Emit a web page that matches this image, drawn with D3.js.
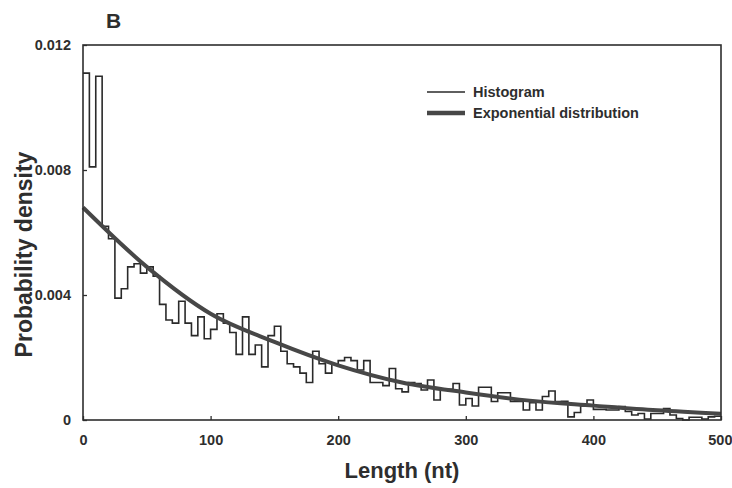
<!DOCTYPE html>
<html>
<head>
<meta charset="utf-8">
<script src="https://cdn.jsdelivr.net/npm/d3@7"></script>
<style>
    html, body { margin: 0; padding: 0; background: #fff; }
    svg text { font-family: "Liberation Sans", Arial, Helvetica, sans-serif; font-weight: bold; fill: #2e2e2e; }
</style>
</head>
<body>
<div id="svg-container"></div>
<script>
// histogram, 5 nt bins from 0 to 500
var binWidth = 5;
var histDensity = [
    0.0111, 0.0081, 0.0110, 0.0062, 0.0058, 0.0039, 0.0042, 0.0049, 0.0050, 0.0047,
    0.0049, 0.0046, 0.0037, 0.0032, 0.0031, 0.0038, 0.0031, 0.0027, 0.0033, 0.0026,
    0.0029, 0.0034, 0.0031, 0.0028, 0.0021, 0.0033, 0.0021, 0.0024, 0.0017, 0.0027,
    0.0030, 0.0022, 0.0018, 0.0017, 0.0015, 0.0012, 0.0022, 0.0018, 0.0015, 0.0018,
    0.0019, 0.0020, 0.0019, 0.0016, 0.0019, 0.0012, 0.0012, 0.0011, 0.00165, 0.0010,
    0.0009, 0.0012, 0.00117, 0.00096, 0.00128, 0.00064, 0.00098, 0.00098, 0.00117, 0.00048,
    0.00069, 0.00045, 0.00105, 0.00105, 0.00059, 0.00087, 0.00087, 0.00059, 0.00059, 0.00032,
    0.00055, 0.00032, 0.00075, 0.00093, 0.00059, 0.00060, 0.00010, 0.00024, 0.00045, 0.00064,
    0.00034, 0.00034, 0.00032, 0.00032, 0.00043, 0.00027, 0.00016, 0.00021, 0.00003, 0.00021,
    0.00021, 0.00037, 0.00016, 0.00005, 0.00000, 0.00009, 0.00009, 0.00003, 0.00010, 0.00012
];

// fitted exponential
var curveLength = [0, 50, 100, 150, 200, 250, 300, 350, 400, 450, 500];
var curveDensity = [0.0068, 0.0049, 0.0034, 0.0025, 0.00175, 0.0012, 0.00088, 0.00062, 0.00046, 0.00031, 0.0002];

var xTickValues = [0, 100, 200, 300, 400, 500];
var yTickValues = [0, 0.004, 0.008, 0.012];
var yTickLabels = ['0', '0.004', '0.008', '0.012'];
var legendLabels = ['Histogram', 'Exponential distribution'];

;(function () {

    var width = 732
        , height = 488
        , margin = {top: 45, right: 11, bottom: 68, left: 83}
        , innerW = width - margin.left - margin.right
        , innerH = height - margin.top - margin.bottom
        , ink = '#2e2e2e'
        , svg
        , g
        , x
        , y;

    function drawAxes() {
        var xAxis = d3.axisBottom(x)
            .tickValues(xTickValues)
            .tickSize(-4)
            .tickSizeOuter(0)
            .tickPadding(15);

        var yAxis = d3.axisLeft(y)
            .tickValues(yTickValues)
            .tickFormat(function(d, i) { return yTickLabels[i]; })
            .tickSize(-4)
            .tickSizeOuter(0)
            .tickPadding(12);

        var gx = g.append('g')
            .attr('transform', 'translate(0,' + innerH + ')')
            .call(xAxis);
        var gy = g.append('g').call(yAxis);

        [gx, gy].forEach(function(a) {
            a.select('.domain').remove();
            a.selectAll('line').attr('stroke', ink).attr('stroke-width', 1.3);
            a.selectAll('text').attr('font-size', 14.5).attr('fill', ink)
                .style('font-family', null);
        });

        // last label sits against the page edge
        gx.selectAll('.tick text')
            .filter(function(d) { return d === 500; })
            .attr('text-anchor', 'end')
            .attr('x', 11);

        g.append('rect')
            .attr('width', innerW)
            .attr('height', innerH)
            .attr('fill', 'none')
            .attr('stroke', ink)
            .attr('stroke-width', 1.6);
    }

    function drawHistogram() {
        var pts = histDensity.map(function(d, i) { return [i * binWidth, d]; });
        pts.push([histDensity.length * binWidth, histDensity[histDensity.length - 1]]);

        var line = d3.line()
            .x(function(d) { return x(d[0]); })
            .y(function(d) { return y(d[1]); })
            .curve(d3.curveStepAfter);

        g.append('path')
            .datum(pts)
            .attr('fill', 'none')
            .attr('stroke', '#2a2a2a')
            .attr('stroke-width', 1.6)
            .attr('d', line);
    }

    function drawCurve() {
        var line = d3.line()
            .x(function(d, i) { return x(curveLength[i]); })
            .y(function(d) { return y(d); })
            .curve(d3.curveMonotoneX);

        g.append('path')
            .datum(curveDensity)
            .attr('fill', 'none')
            .attr('stroke', '#474747')
            .attr('stroke-width', 4)
            .attr('stroke-linecap', 'butt')
            .attr('d', line);
    }

    function drawLegend() {
        var lg = svg.append('g').attr('transform', 'translate(427,92)');
        var widths = [1.6, 4.5];

        legendLabels.forEach(function(label, i) {
            lg.append('line')
                .attr('x1', 0).attr('x2', 38)
                .attr('y1', i * 21).attr('y2', i * 21)
                .attr('stroke', i ? '#474747' : '#2a2a2a')
                .attr('stroke-width', widths[i]);
            lg.append('text')
                .attr('x', 46)
                .attr('y', i * 21 + 5)
                .attr('font-size', 14.5)
                .text(label);
        });
    }

    function drawLabels() {
        svg.append('text')
            .attr('x', 106)
            .attr('y', 28)
            .attr('font-size', 21)
            .text('B');

        svg.append('text')
            .attr('transform', 'translate(32,' + (margin.top + innerH / 2 + 22) + ') rotate(-90)')
            .attr('text-anchor', 'middle')
            .attr('font-size', 23)
            .text('Probability density');

        svg.append('text')
            .attr('x', margin.left + innerW / 2)
            .attr('y', 478)
            .attr('text-anchor', 'middle')
            .attr('font-size', 22)
            .text('Length (nt)');
    }

    function initialize() {
        svg = d3.select('#svg-container').append('svg')
            .attr('width', width)
            .attr('height', height);

        g = svg.append('g')
            .attr('transform', 'translate(' + margin.left + ',' + margin.top + ')');

        x = d3.scaleLinear().domain([0, 500]).range([0, innerW]);
        y = d3.scaleLinear().domain([0, 0.012]).range([innerH, 0]);

        drawHistogram();
        drawCurve();
        drawAxes();
        drawLegend();
        drawLabels();
    }

    initialize();

}());
</script>
</body>
</html>
